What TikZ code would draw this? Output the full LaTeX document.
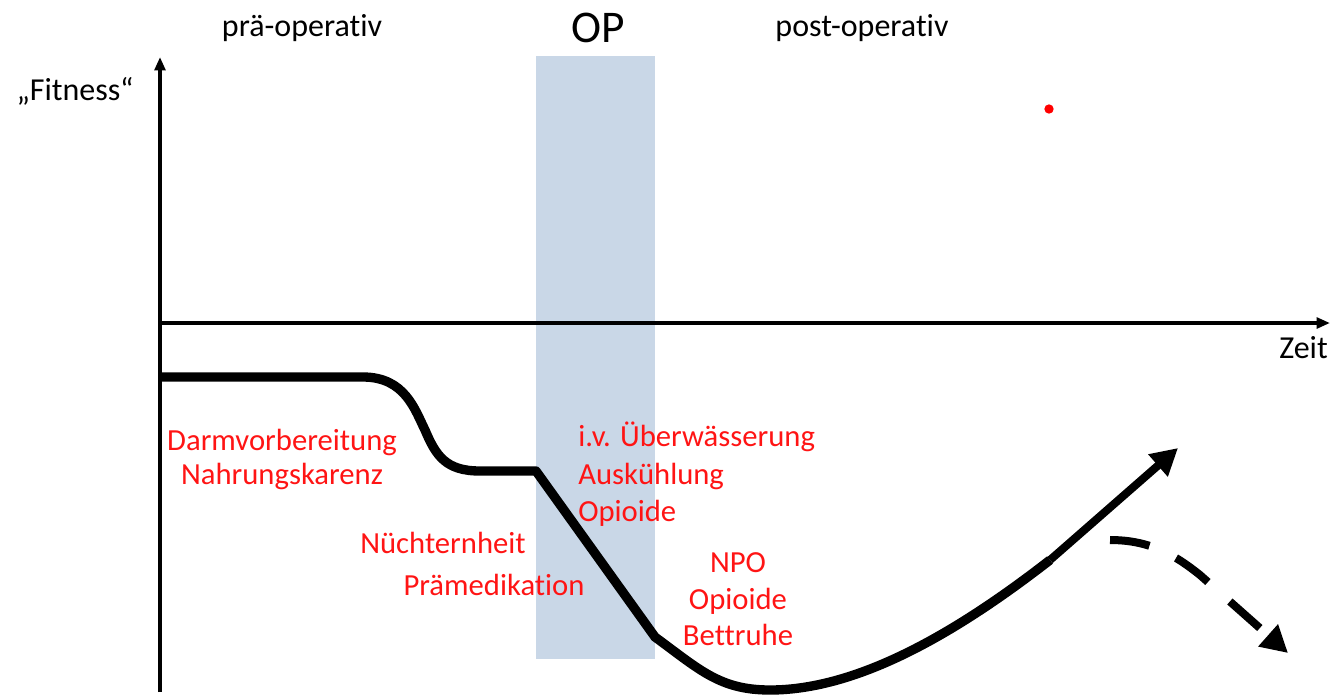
\documentclass[tikz,border=0pt]{standalone}
\usepackage{fontspec}
\setmainfont{Carlito}[Ligatures=NoCommon]
\usepackage{tikz}
\usetikzlibrary{arrows.meta}
\definecolor{opband}{RGB}{201,215,231}
\definecolor{notered}{RGB}{255,20,20}
\tikzstyle{axis}=[draw=black, line width=2.5pt, -{Triangle[length=10pt, width=8pt]}]
\tikzstyle{fitline}=[draw=black, line width=7pt, line join=round]
\tikzstyle{fitarrow}=[draw=black, line width=6pt, -{Triangle[length=20pt, width=21pt]}]
\tikzstyle{phase}=[inner sep=0pt, anchor=base, font=\fontsize{24}{29}\selectfont]
\tikzstyle{note}=[inner sep=0pt, anchor=base, text=notered, font=\fontsize{23}{27.5}\selectfont]

\begin{document}
\begin{tikzpicture}[x=0.75pt, y=-0.75pt]
		   \useasboundingbox (0, 0) rectangle (1330, 694);
		   \fill[opband] (536, 56) rectangle (655, 659);
		   \begin{scope}
			   \coordinate (o) at (160, 323);
			   \coordinate (ytop) at (160, 57);
			   \coordinate (ybot) at (160, 692);
			   \coordinate (xend) at (1330, 323);
			   \node (pre) at (302, 36)[phase] {prä-operativ};
			   \node (op) at (598, 42)[phase, font=\fontsize{34}{40}\selectfont] {OP};
			   \node (post) at (862, 36)[phase] {post-operativ};
			   \node (fit) at (75, 100)[phase] {„Fitness“};
			   \node (zeit) at (1328, 358)[phase, anchor=base east] {Zeit};
			   \node (darm) at (282, 450)[note] {Darmvorbereitung};
			   \node (nahr) at (282, 484)[note] {Nahrungskarenz};
			   \node (nuech) at (443, 553)[note] {Nüchternheit};
			   \node (praem) at (494, 595)[note] {Prämedikation};
			   \node (uwas) at (578, 446)[note, anchor=base west] {i.v. Überwässerung};
			   \node (ausk) at (578, 484)[note, anchor=base west] {Auskühlung};
			   \node (opio) at (578, 521)[note, anchor=base west] {Opioide};
			   \node (npo) at (738, 572)[note] {NPO};
			   \node (opio2) at (738, 609)[note] {Opioide};
			   \node (bett) at (738, 645)[note] {Bettruhe};
			   \node (dot) at (1049, 109)[circle, fill=red, inner sep=0pt, minimum size=7pt] {};
		   \end{scope}
		   \begin{scope}
			   \coordinate (c0) at (160, 377);
			   \coordinate (c1) at (363, 377);
			   \coordinate (c2) at (425, 430);
			   \coordinate (c3) at (536, 471);
			   \coordinate (c4) at (655, 637);
			   \coordinate (c5) at (770, 690);
			   \coordinate (c6) at (1050, 560);
			   \coordinate (up) at (1178, 448);
			   \coordinate (d0) at (1110, 540);
			   \coordinate (d1) at (1200, 575);
			   \coordinate (down) at (1288, 653);
		   \end{scope}
		   \begin{scope}
			   \path [axis] (ybot) -- (ytop);
			   \path [axis] (o) -- (xend);
			   \path [fitline] (c0) -- (c1) .. controls (405, 377) and (415, 410) .. (c2)
				   .. controls (436, 456) and (446, 471) .. (480, 471) -- (c3) -- (c4)
				   .. controls (700, 670) and (720, 690) .. (c5)
				   .. controls (860, 690) and (960, 630) .. (c6);
			   \path [fitarrow] (c6) -- (up);
			   \path [fitarrow, dash pattern=on 30pt off 22pt] (d0) .. controls (1150, 540) and (1175, 555) .. (d1) -- (down);
		   \end{scope}
	   \end{tikzpicture}
\end{document}
